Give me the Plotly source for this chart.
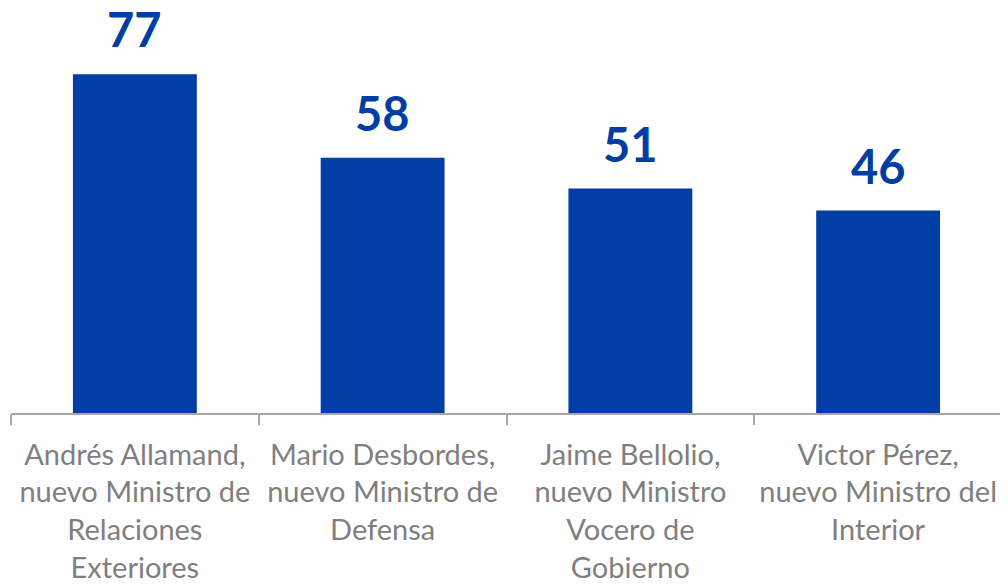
import plotly.graph_objects as go

categories = [
    "Andrés Allamand,<br>nuevo Ministro de<br>Relaciones<br>Exteriores",
    "Mario Desbordes,<br>nuevo Ministro de<br>Defensa",
    "Jaime Bellolio,<br>nuevo Ministro<br>Vocero de<br>Gobierno",
    "Victor Pérez,<br>nuevo Ministro del<br>Interior",
]
values = [77, 58, 51, 46]

BLUE = "#003DA5"
GRAY = "#7F7F7F"

fig = go.Figure(go.Bar(
    x=categories,
    y=values,
    marker=dict(color=BLUE, line=dict(width=0)),
    width=0.5,
))

for c, v in zip(categories, values):
    fig.add_annotation(
        x=c, y=v, text=f"<b>{v}</b>", showarrow=False,
        yanchor="bottom", yshift=15,
        font=dict(family="Lato, sans-serif", size=47, color=BLUE),
    )

fig.update_layout(
    width=1000, height=577,
    margin=dict(l=3, r=6, t=31, b=172, autoexpand=False),
    paper_bgcolor="white", plot_bgcolor="white",
    showlegend=False,
    xaxis=dict(
        type="category",
        automargin=False,
        showline=True, linecolor="#A6A6A6", linewidth=1.5,
        ticks="outside", tickson="boundaries", ticklen=10,
        tickcolor="#A6A6A6", tickwidth=1.5,
        tickfont=dict(family="Lato, sans-serif", size=29, color=GRAY),
        showgrid=False, zeroline=False,
        ticklabelstandoff=15,
    ),
    yaxis=dict(range=[0, 85], visible=False, showgrid=False, zeroline=False,
               automargin=False),
)

fig.write_html("out.html", config={"displayModeBar": False})
